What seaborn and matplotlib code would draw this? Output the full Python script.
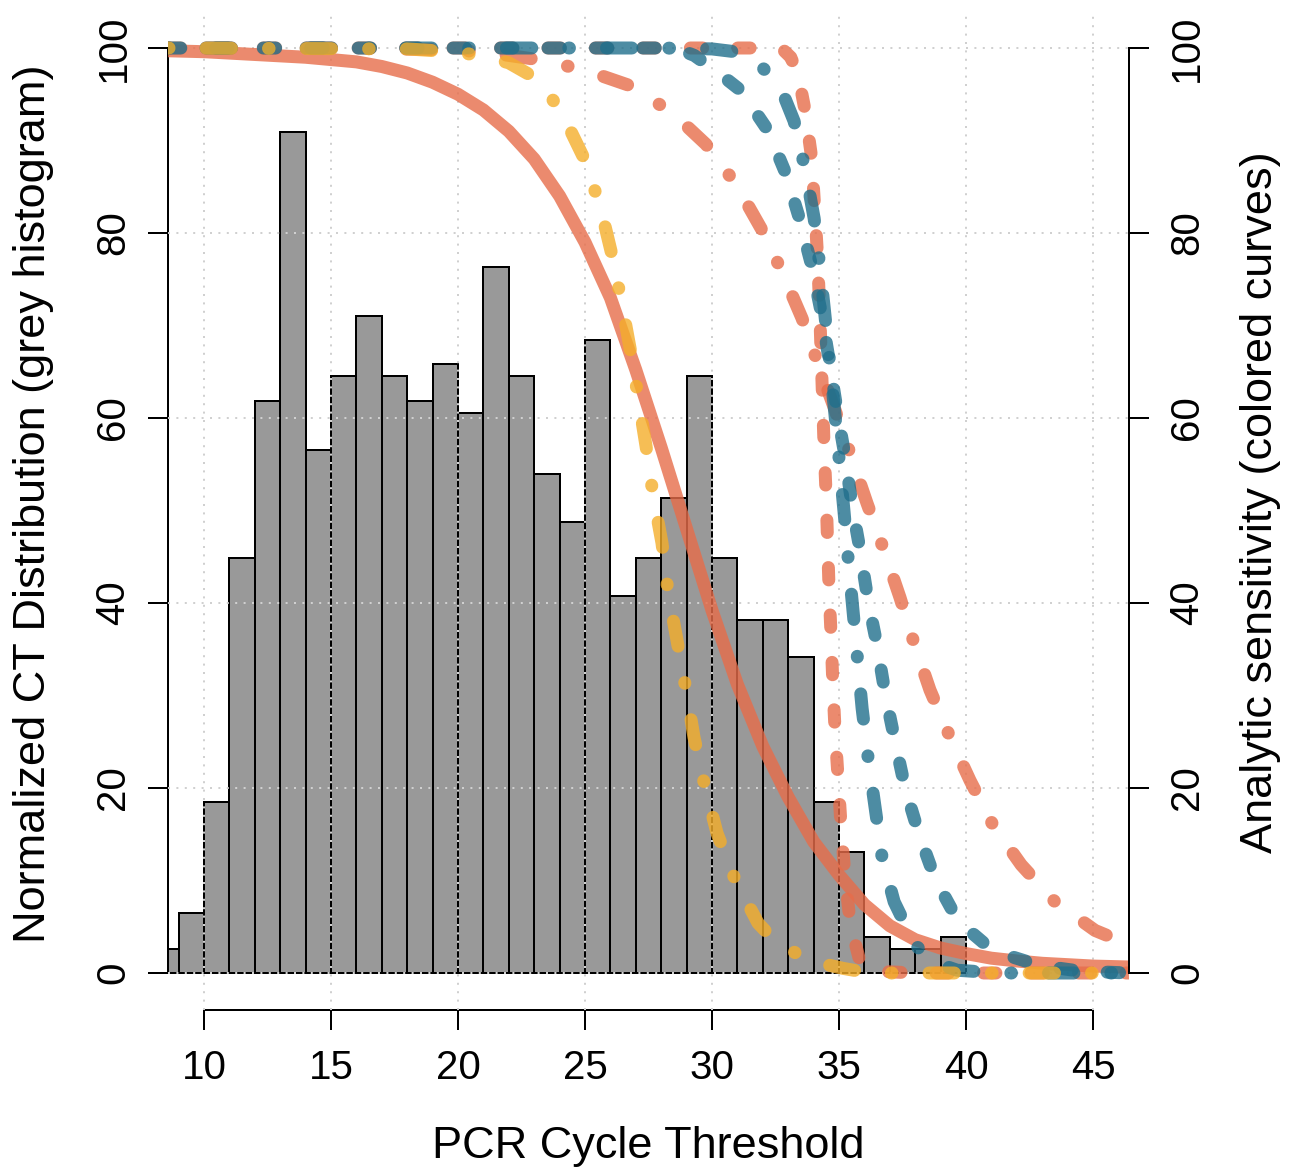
import matplotlib
matplotlib.use("Agg")
import matplotlib.pyplot as plt
import seaborn as sns
import numpy as np
import pandas as pd

# ---------------- data ----------------
bin_left = list(range(8, 40))
hist_height = [2.6, 6.5, 18.5, 44.9, 61.8, 90.9, 56.5, 64.5, 71.0, 64.5,
               61.8, 65.8, 60.5, 76.3, 64.5, 53.9, 48.8, 68.4, 40.8, 44.9,
               51.4, 64.5, 44.9, 38.2, 38.2, 34.2, 18.5, 13.1, 3.9, 2.6,
               2.6, 3.9]

# salmon, solid
s1_x = [8.6, 10, 12, 14, 16, 17, 18, 19, 20, 21, 22, 23, 24, 25, 26, 27, 28,
        29, 30, 31, 32, 33, 34, 35, 36, 37, 38, 39, 40, 41, 42, 43, 44, 45, 46.4]
s1_y = [99.7, 99.6, 99.3, 99.0, 98.5, 98.0, 97.3, 96.3, 95.0, 93.3, 91.0,
        88.0, 84.0, 79.0, 73.0, 65.2, 56.8, 48.0, 39.2, 31.2, 24.5, 19.0,
        14.2, 10.6, 7.4, 5.1, 3.6, 2.7, 2.1, 1.6, 1.3, 1.05, 0.9, 0.75, 0.65]

# salmon, dot-dash (gradual)
s2_x = [8.6, 15.0, 20.0, 21.5, 23.0, 24.9, 26.7, 28.4, 29.76, 30.94, 31.93,
        32.76, 33.54, 34.17, 34.84, 35.47, 36.1, 36.77, 37.4, 37.95, 38.58,
        39.37, 40.16, 41.06, 42.17, 43.5, 45.08, 46.4]
s2_y = [100, 100, 99.8, 99.4, 98.8, 97.7, 96.0, 93.1, 89.6, 85.3, 80.5,
        75.8, 70.8, 65.9, 60.9, 55.9, 50.8, 45.7, 40.6, 35.7, 30.6,
        25.5, 20.8, 16.0, 11.7, 7.7, 4.6, 3.1]

# salmon, dotted (steep)
s3_x = [8.6, 30.0, 32.4, 32.8, 33.1, 33.4, 33.66, 33.92, 34.04, 34.15, 34.23,
        34.29, 34.35, 34.41, 34.49, 34.55, 34.61, 34.69, 34.76, 34.85, 34.97,
        35.09, 35.24, 35.45, 35.8, 36.4, 38.0, 46.4]
s3_y = [100, 100, 100, 99.8, 99.0, 97.0, 93.3, 88.2, 82.8, 77.7, 72.5,
        67.4, 62.3, 57.1, 51.8, 46.6, 41.4, 36.3, 31.1, 25.9, 20.8,
        15.5, 10.3, 5.2, 1.5, 0.2, 0, 0]

# teal, dotted
t1_x = [8.6, 25.0, 28.0, 28.74, 29.3, 29.76, 30.4, 31.14, 32.2, 32.91, 33.46,
        33.94, 34.3, 34.61, 34.92, 35.24, 35.51, 35.83, 36.14, 36.5, 36.81,
        37.2, 37.6, 38.15, 38.78, 39.69, 41.06, 42.91, 44.5, 46.4]
t1_y = [100, 100, 100, 99.8, 99.2, 98.3, 97.0, 95.4, 91.1, 86.4, 81.4,
        76.3, 71.4, 66.3, 60.9, 55.8, 50.6, 45.7, 40.3, 35.4, 30.3,
        25.1, 20.0, 15.0, 10.2, 5.6, 2.4, 0.8, 0.2, 0]

# teal, dot-dash
t2_x = [8.6, 28.0, 30.0, 30.9, 31.7, 32.36, 32.85, 33.23, 33.66, 34.02, 34.25,
        34.45, 34.64, 34.84, 35.02, 35.2, 35.37, 35.55, 35.73, 35.91, 36.14,
        36.42, 36.69, 37.17, 38.0, 38.8, 39.65, 41.3, 46.4]
t2_y = [100, 100, 99.9, 99.6, 98.6, 96.9, 94.7, 92.1, 87.0, 81.6, 76.3,
        71.0, 65.8, 60.4, 55.1, 49.8, 44.5, 39.2, 33.9, 28.6, 23.4,
        17.9, 12.6, 7.7, 3.0, 1.1, 0.3, 0, 0]

# gold, dot-dash
g1_x = [8.6, 18.0, 19.13, 20.1, 21.06, 22.0, 22.83, 23.5, 24.09, 24.92, 25.59,
        26.02, 26.42, 26.77, 27.09, 27.4, 27.68, 28.03, 28.27, 28.62, 28.98,
        29.29, 29.72, 30.2, 30.91, 31.81, 32.5, 33.27, 34.2, 35.16, 36.2, 46.4]
g1_y = [100, 99.9, 99.7, 99.5, 99.1, 98.4, 97.1, 95.3, 93.0, 88.3, 83.0,
        78.1, 72.8, 67.6, 62.3, 57.0, 51.7, 46.5, 41.2, 36.0, 30.6,
        25.5, 20.2, 15.1, 10.1, 5.4, 3.4, 2.2, 1.1, 0.5, 0, 0]

x_ticks = [10, 15, 20, 25, 30, 35, 40, 45]
y_ticks = [0, 20, 40, 60, 80, 100]

# ---------------- style ----------------
sns.set_style("ticks")
plt.rcParams['font.family'] = ['Liberation Sans', 'DejaVu Sans']
plt.rcParams.update({'text.color': 'black', 'axes.labelcolor': 'black',
                     'xtick.color': 'black', 'ytick.color': 'black',
                     'axes.edgecolor': 'black'})

W, H = 1292, 1168
fig = plt.figure(figsize=(W / 100, H / 100), dpi=100)
PX = 72 / 100  # points per pixel

x0, x1 = 8.6, 46.4
y0, y1 = -4, 104
left_px, right_px = 168.4, 1128.6
top_px, bot_px = 11, 1010
ax = fig.add_axes([left_px / W, (H - bot_px) / H,
                   (right_px - left_px) / W, (bot_px - top_px) / H])

# histogram
centers = [b + 0.5 for b in bin_left]
edges = bin_left + [bin_left[-1] + 1]
sns.histplot(x=centers, weights=hist_height, bins=edges, ax=ax,
             color='#999999', edgecolor='black', linewidth=2 * PX, alpha=1)

ax.set_xlim(x0, x1)
ax.set_ylim(y0, y1)
ax.set_xticks(x_ticks)
ax.set_yticks(y_ticks)
ax.set_xlabel('')
ax.set_ylabel('')
ax.grid(True, color='#D0D0D0', linestyle=(0, (1, 3.2)), linewidth=2 * PX)
ax.set_axisbelow(False)

for sp in ['top', 'right']:
    ax.spines[sp].set_visible(False)
ax.spines['left'].set_bounds(0, 100)
ax.spines['bottom'].set_bounds(10, 45)
for sp in ['left', 'bottom']:
    ax.spines[sp].set_linewidth(2 * PX)
    ax.spines[sp].set_color('black')

tick_fs = 29
ax.tick_params(axis='x', direction='out', length=20 * PX, width=2 * PX,
               labelsize=tick_fs, pad=13.5, colors='black')
ax.tick_params(axis='y', direction='out', length=20 * PX, width=2 * PX,
               labelsize=tick_fs, pad=11.5, labelrotation=90, colors='black')
for lab in ax.get_yticklabels():
    lab.set_va('center')

# secondary axis for the curves
ax2 = ax.twinx()
ax2.set_ylim(y0, y1)
ax2.set_xlim(x0, x1)
ax2.set_yticks(y_ticks)
for sp in ['top', 'left', 'bottom']:
    ax2.spines[sp].set_visible(False)
ax2.spines['right'].set_bounds(0, 100)
ax2.spines['right'].set_linewidth(2 * PX)
ax2.spines['right'].set_color('black')
ax2.tick_params(axis='y', direction='out', length=20 * PX, width=2 * PX,
                labelsize=tick_fs, pad=14, labelrotation=90, colors='black')
for lab in ax2.get_yticklabels():
    lab.set_va('center')
ax2.grid(False)

salmon = '#E76D4A'
teal = '#206F8C'
gold = '#F4AE2A'
LW = 13 * PX
dotted = (0, (0.95, 2.7))
dotdash = (0, (0.05, 2.85, 1.95, 2.85))

curves = [
    (s1_x, s1_y, salmon, '-'),
    (s2_x, s2_y, salmon, dotdash),
    (s3_x, s3_y, salmon, dotted),
    (t1_x, t1_y, teal, dotted),
    (t2_x, t2_y, teal, dotdash),
    (g1_x, g1_y, gold, dotdash),
]
for cx, cy, col, ls in curves:
    df = pd.DataFrame({'ct': cx, 'sens': cy})
    sns.lineplot(data=df, x='ct', y='sens', ax=ax2, color=col, linewidth=LW,
                 linestyle=ls, alpha=0.8, sort=False, estimator=None,
                 solid_capstyle='round', dash_capstyle='round',
                 solid_joinstyle='round', dash_joinstyle='round')
ax2.set_xlabel('')
ax2.set_ylabel('')
ax2.set_xlim(x0, x1)

lab_fs = 32.5
fig.text(648 / W, (H - 1158) / H, 'PCR Cycle Threshold', ha='center',
         va='baseline', fontsize=lab_fs, color='black')
fig.text(45 / W, 1 - 504 / H, 'Normalized CT Distribution (grey histogram)',
         rotation=90, rotation_mode='anchor', ha='center', va='baseline',
         fontsize=lab_fs, color='black')
fig.text(1272 / W, 1 - 502 / H, 'Analytic sensitivity (colored curves)',
         rotation=90, rotation_mode='anchor', ha='center', va='baseline',
         fontsize=lab_fs, color='black')

fig.savefig('out.png', dpi=100)
